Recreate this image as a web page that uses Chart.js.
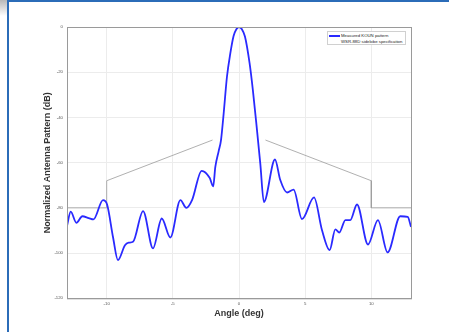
<!DOCTYPE html>
<html>
<head>
<meta charset="utf-8">
<script src="https://cdn.jsdelivr.net/npm/chart.js@4"></script>
<style>
  html, body { margin: 0; padding: 0; background: #fff; }
  body { width: 449px; height: 332px; position: relative; overflow: hidden; font-family: "Liberation Sans", Arial, sans-serif; }
  #corner { position: absolute; left: 0; top: 0; width: 8px; height: 16px; background: linear-gradient(#b8b8b8, #fff); }
  #frame { position: absolute; left: 7px; top: 0; width: 449px; height: 340px; border-left: 2px solid #2b6cb8; border-top: 2px solid #2b6cb8; box-sizing: border-box; }
  #wrap { position: absolute; left: 0; top: 0; width: 449px; height: 332px; }
  #legend { position: absolute; left: 327px; top: 31px; width: 79px; height: 14px; border: 1px solid #d0d0d0; background: #fff; box-sizing: border-box; font-size: 4.3px; color: #222; line-height: 6px; }
  #legend .row { position: absolute; left: 1px; white-space: nowrap; }
  #legend .swatch { display: inline-block; width: 11px; vertical-align: middle; margin-right: 1px; }
</style>
</head>
<body>
<div id="corner"></div>
<div id="frame"></div>
<div id="wrap"><canvas id="chart" width="449" height="332"></canvas></div>
<div id="legend">
  <div class="row" style="top:1px"><span class="swatch" style="height:1.5px;background:#2a2aff"></span>Measured KOUN pattern</div>
  <div class="row" style="top:7px"><span class="swatch" style="height:1px;background:#fff"></span>WSR-88D sidelobe specification</div>
</div>
<script>
// Measured pattern
const angleDeg = [-13.0, -12.72, -12.29, -11.84, -11.36, -11.0, -10.28, -9.97, -9.52, -9.15,
  -8.62, -8.34, -8.01, -7.25, -6.5, -5.84, -5.19, -4.43, -3.98, -3.55,
  -2.82, -2.22, -1.95, -1.79, -1.54, -1.36, -1.16, -0.91, -0.66, -0.41,
  -0.2, 0, 0.22, 0.45, 0.8, 1.05, 1.36, 1.61, 1.88, 2.72, 3.12, 3.63,
  4.13, 4.76, 5.67, 6.27, 6.85, 7.28, 7.58, 8.04, 8.41, 8.92,
  9.75, 10.5, 11.23, 12.19, 12.75, 13.0];
const patternDb = [-88, -81.7, -86.6, -83.7, -84.5, -85.1, -76.6, -78.5, -93, -103.1,
  -96.5, -95.4, -95, -81.4, -97.9, -84.7, -93.1, -76.6, -80, -76.6,
  -63.6, -66.7, -70.5, -61.9, -55, -50, -38.3, -22, -11.8, -4,
  -1, 0, -1, -4.2, -16, -28, -45.6, -60.4, -77.4, -58.6, -67.7, -73.2,
  -71.9, -85, -75.4, -89.8, -98.7, -89.5, -90.9, -85.4, -85.4, -78.5,
  -96.2, -85.4, -99.7, -83.7, -84, -88.4];

// WSR-88D sidelobe spec mask (null = gap around main lobe)
const specAngle = [-13, -10, -10, -2, 0, 2, 10, 10, 13];
const specDb = [-80, -80, -68, -50, null, -50, -68, -80, -80];

const xTicks = [-10, -5, 0, 5, 10];
const yTicks = [0, -20, -40, -60, -80, -100, -120];

const toPoints = (xs, ys) => xs.map((x, i) => ({ x: x, y: ys[i] }));

// box around the plot area, like matlab
const boxPlugin = {
  id: 'box',
  afterDraw(chart) {
    const { ctx, chartArea: a } = chart;
    ctx.save();
    ctx.strokeStyle = '#9a9a9a';
    ctx.lineWidth = 1;
    ctx.strokeRect(a.left + 0.5, a.top + 0.5, a.right - a.left, a.bottom - a.top);
    ctx.restore();
  }
};

const tickFont = { family: 'Liberation Sans', size: 4.3 };
const titleFont = { family: 'Liberation Sans', size: 9, weight: 'bold' };

new Chart(document.getElementById('chart'), {
  type: 'line',
  data: {
    datasets: [
      {
        label: 'Measured KOUN pattern',
        data: toPoints(angleDeg, patternDb),
        borderColor: '#2a2aff',
        borderWidth: 1.8,
        pointRadius: 0,
        cubicInterpolationMode: 'monotone'
      },
      {
        label: 'WSR-88D sidelobe specification',
        data: toPoints(specAngle, specDb),
        borderColor: '#9c9c9c',
        borderWidth: 0.8,
        pointRadius: 0,
        tension: 0,
        spanGaps: false
      }
    ]
  },
  options: {
    responsive: false,
    animation: false,
    layout: { padding: { left: 0, top: 27, right: 38, bottom: 0 } },
    plugins: { legend: { display: false }, tooltip: { enabled: false } },
    scales: {
      x: {
        type: 'linear',
        min: -13,
        max: 13,
        afterBuildTicks: s => { s.ticks = xTicks.map(v => ({ value: v })); },
        afterFit: s => { s.height = 33.7; },
        grid: { color: '#ececec', drawTicks: false },
        border: { color: '#9a9a9a' },
        ticks: { font: tickFont, color: '#555', padding: 3, maxRotation: 0 },
        title: { display: true, text: 'Angle (deg)', font: titleFont, color: '#333', padding: { top: 0, bottom: 13.5 } }
      },
      y: {
        type: 'linear',
        min: -120,
        max: 0,
        afterBuildTicks: s => { s.ticks = yTicks.map(v => ({ value: v })); },
        afterFit: s => { s.width = 67; },
        grid: { color: '#ececec', drawTicks: false },
        border: { color: '#9a9a9a' },
        ticks: { font: tickFont, color: '#555', padding: 4 },
        title: { display: true, text: 'Normalized Antenna Pattern (dB)', font: titleFont, color: '#333', padding: { top: 42.5, bottom: 0 } }
      }
    }
  },
  plugins: [boxPlugin]
});
</script>
</body>
</html>
